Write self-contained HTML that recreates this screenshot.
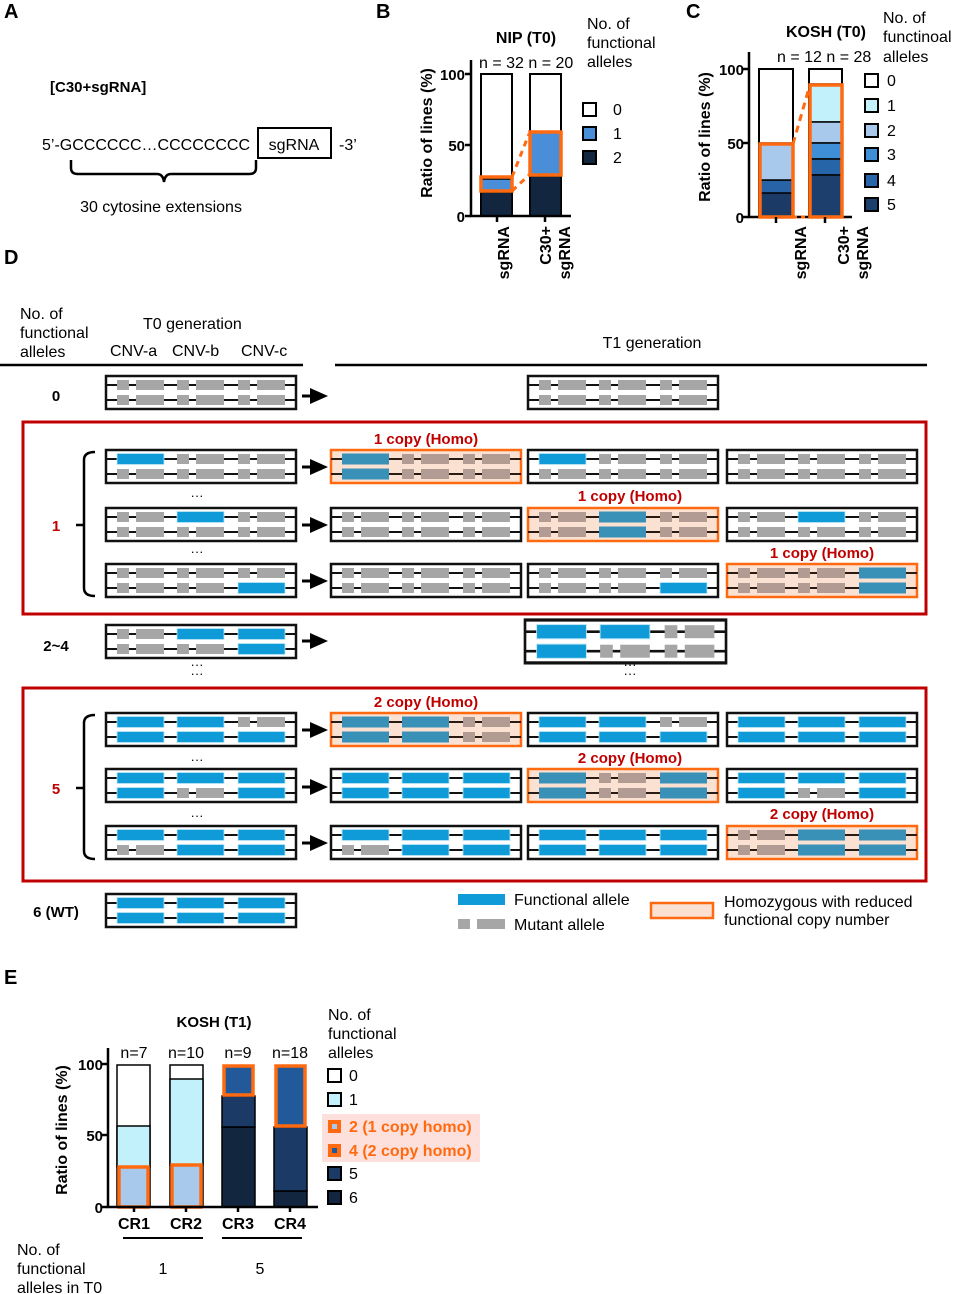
<!DOCTYPE html>
<html><head><meta charset="utf-8"><style>
html,body{margin:0;padding:0;background:#fff}
svg{display:block;font-family:"Liberation Sans",Arial,sans-serif}
</style></head><body>
<svg width="955" height="1294" viewBox="0 0 955 1294" xmlns="http://www.w3.org/2000/svg">
<defs>
<g id="G"><rect x="0" y="-5" width="12" height="10" fill="#a6a6a6"/><rect x="19" y="-5" width="28" height="10" fill="#a6a6a6"/></g>
<g id="B"><rect x="0" y="-5.5" width="47" height="11" fill="#0e9bd8" stroke="#bfe6f6" stroke-width="0.8"/></g>
<g id="HG"><rect x="0" y="-5" width="12" height="10" fill="#b19b92"/><rect x="19" y="-5" width="28" height="10" fill="#b19b92"/></g>
<g id="HB"><rect x="0" y="-5.5" width="47" height="11" fill="#3a91b8"/></g>
<g id="bx"><rect x="0" y="0" width="190" height="33" fill="#fff" stroke="#111" stroke-width="2.5"/><line x1="0" y1="9" x2="190" y2="9" stroke="#111" stroke-width="2"/><line x1="0" y1="24" x2="190" y2="24" stroke="#111" stroke-width="2"/></g>
<g id="hx"><rect x="0" y="0" width="190" height="33" fill="#fbe1d2" stroke="#ff6a10" stroke-width="2.5"/><line x1="0" y1="9" x2="190" y2="9" stroke="#2a1a14" stroke-width="2"/><line x1="0" y1="24" x2="190" y2="24" stroke="#2a1a14" stroke-width="2"/></g>
<g id="ar"><line x1="0" y1="0" x2="10" y2="0" stroke="#000" stroke-width="3"/><polygon points="8,-8 26,0 8,8" fill="#000"/></g>
</defs>

<g font-weight="bold" font-size="20">
<text x="4" y="18">A</text><text x="376" y="18">B</text><text x="686" y="18">C</text><text x="4" y="264">D</text><text x="4" y="984">E</text>
</g>

<!-- Panel A -->
<text x="50" y="92" font-size="15" font-weight="bold">[C30+sgRNA]</text>
<text x="42" y="150" font-size="16">5’-GCCCCCC…CCCCCCCC</text>
<rect x="258" y="128" width="73" height="30" fill="none" stroke="#000" stroke-width="2"/>
<text x="294" y="150" font-size="16" text-anchor="middle">sgRNA</text>
<text x="339" y="150" font-size="16">-3’</text>
<path d="M71,160 V168 Q71,174 78,174 H157 Q163,174 164,182 Q165,174 171,174 H249 Q256,174 256,168 V160" fill="none" stroke="#000" stroke-width="2.5"/>
<text x="161" y="212" font-size="16" text-anchor="middle">30 cytosine extensions</text>

<!-- Panel B -->
<text x="526" y="43" font-size="16" font-weight="bold" text-anchor="middle">NIP (T0)</text>
<text x="479" y="68" font-size="16">n = 32 n = 20</text>
<g font-size="16"><text x="587" y="29">No. of</text><text x="587" y="48">functional</text><text x="587" y="67">alleles</text></g>
<rect x="481" y="74" width="31" height="142" fill="#fff" stroke="#000" stroke-width="2"/>
<rect x="481" y="192" width="31" height="24" fill="#13263f" stroke="#000" stroke-width="1.5"/>
<rect x="481" y="179" width="31" height="13" fill="#4a8ed8" stroke="#000" stroke-width="1.5"/>
<rect x="530" y="74" width="31" height="142" fill="#fff" stroke="#000" stroke-width="2"/>
<rect x="530" y="176" width="31" height="40" fill="#13263f" stroke="#000" stroke-width="1.5"/>
<rect x="530" y="132" width="31" height="44" fill="#4a8ed8" stroke="#000" stroke-width="1.5"/>
<rect x="481" y="177" width="31" height="14" fill="none" stroke="#ff6a10" stroke-width="3.5"/>
<rect x="530" y="132" width="31" height="43" fill="none" stroke="#ff6a10" stroke-width="3.5"/>
<line x1="512" y1="177" x2="529" y2="134" stroke="#ff6a10" stroke-width="3" stroke-dasharray="6,5"/>
<line x1="512" y1="191" x2="529" y2="175" stroke="#ff6a10" stroke-width="3" stroke-dasharray="6,5"/>
<polyline points="471,60 471,216 571,216" fill="none" stroke="#000" stroke-width="2.5"/>
<line x1="465" y1="74" x2="471" y2="74" stroke="#000" stroke-width="2.5"/><line x1="465" y1="145" x2="471" y2="145" stroke="#000" stroke-width="2.5"/><line x1="465" y1="216" x2="471" y2="216" stroke="#000" stroke-width="2.5"/>
<line x1="497" y1="216" x2="497" y2="222" stroke="#000" stroke-width="2.5"/><line x1="545" y1="216" x2="545" y2="222" stroke="#000" stroke-width="2.5"/>
<g font-size="15" font-weight="bold" text-anchor="end"><text x="465" y="80">100</text><text x="465" y="151">50</text><text x="465" y="222">0</text></g>
<text transform="translate(432,133) rotate(-90)" font-size="16" font-weight="bold" text-anchor="middle">Ratio of lines (%)</text>
<g font-size="16" font-weight="bold" text-anchor="end">
<text transform="translate(509,226) rotate(-90)">sgRNA</text>
<text transform="translate(551,226) rotate(-90)">C30+</text>
<text transform="translate(570,226) rotate(-90)">sgRNA</text></g>
<rect x="583" y="103" width="13" height="13" fill="#fff" stroke="#000" stroke-width="2"/>
<rect x="583" y="127" width="13" height="13" fill="#4a8ed8" stroke="#000" stroke-width="2"/>
<rect x="583" y="151" width="13" height="13" fill="#13263f" stroke="#000" stroke-width="2"/>
<g font-size="16"><text x="613" y="115">0</text><text x="613" y="139">1</text><text x="613" y="163">2</text></g>

<!-- Panel C -->
<text x="826" y="37" font-size="16" font-weight="bold" text-anchor="middle">KOSH (T0)</text>
<text x="777" y="62" font-size="16">n = 12 n = 28</text>
<g font-size="16"><text x="883" y="23">No. of</text><text x="883" y="42">functinoal</text><text x="883" y="62">alleles</text></g>
<rect x="759" y="69" width="34" height="148" fill="#fff" stroke="#000" stroke-width="2"/>
<rect x="759" y="180" width="34" height="37" fill="#2763a6" stroke="#000" stroke-width="1.5"/>
<rect x="759" y="193" width="34" height="24" fill="#1c3a66" stroke="#000" stroke-width="1.5"/>
<rect x="759" y="143" width="34" height="37" fill="#a8c8ec" stroke="#000" stroke-width="1.5"/>
<rect x="809" y="69" width="33" height="148" fill="#fff" stroke="#000" stroke-width="2"/>
<rect x="809" y="84" width="33" height="38" fill="#c2f1fb" stroke="#000" stroke-width="1.5"/>
<rect x="809" y="122" width="33" height="21" fill="#a8c8ec" stroke="#000" stroke-width="1.5"/>
<rect x="809" y="143" width="33" height="16" fill="#3f8ed8" stroke="#000" stroke-width="1.5"/>
<rect x="809" y="159" width="33" height="16" fill="#2565a8" stroke="#000" stroke-width="1.5"/>
<rect x="809" y="175" width="33" height="42" fill="#1c3f6e" stroke="#000" stroke-width="1.5"/>
<polyline points="749,52 749,217 852,217" fill="none" stroke="#000" stroke-width="2.5"/>
<rect x="760" y="144" width="33" height="73" fill="none" stroke="#ff6a10" stroke-width="3.5"/>
<rect x="810" y="85" width="32" height="132" fill="none" stroke="#ff6a10" stroke-width="3.5"/>
<line x1="793" y1="144" x2="809" y2="88" stroke="#ff6a10" stroke-width="3" stroke-dasharray="7,5"/>
<line x1="793" y1="217" x2="809" y2="217" stroke="#ff6a10" stroke-width="3" stroke-dasharray="4,4"/>
<line x1="743" y1="69" x2="749" y2="69" stroke="#000" stroke-width="2.5"/><line x1="743" y1="143" x2="749" y2="143" stroke="#000" stroke-width="2.5"/><line x1="743" y1="217" x2="749" y2="217" stroke="#000" stroke-width="2.5"/>
<line x1="776" y1="217" x2="776" y2="223" stroke="#000" stroke-width="2.5"/><line x1="825" y1="217" x2="825" y2="223" stroke="#000" stroke-width="2.5"/>
<g font-size="15" font-weight="bold" text-anchor="end"><text x="744" y="75">100</text><text x="744" y="149">50</text><text x="744" y="223">0</text></g>
<text transform="translate(710,137) rotate(-90)" font-size="16" font-weight="bold" text-anchor="middle">Ratio of lines (%)</text>
<g font-size="16" font-weight="bold" text-anchor="end">
<text transform="translate(806,226) rotate(-90)">sgRNA</text>
<text transform="translate(849,226) rotate(-90)">C30+</text>
<text transform="translate(868,226) rotate(-90)">sgRNA</text></g>
<rect x="865" y="74" width="13" height="13" fill="#fff" stroke="#000" stroke-width="2"/>
<rect x="865" y="99" width="13" height="13" fill="#c2f1fb" stroke="#000" stroke-width="2"/>
<rect x="865" y="124" width="13" height="13" fill="#a8c8ec" stroke="#000" stroke-width="2"/>
<rect x="865" y="148" width="13" height="13" fill="#3f8ed8" stroke="#000" stroke-width="2"/>
<rect x="865" y="174" width="13" height="13" fill="#2565a8" stroke="#000" stroke-width="2"/>
<rect x="865" y="198" width="13" height="13" fill="#1c3f6e" stroke="#000" stroke-width="2"/>
<g font-size="16"><text x="887" y="86">0</text><text x="887" y="111">1</text><text x="887" y="136">2</text><text x="887" y="160">3</text><text x="887" y="186">4</text><text x="887" y="210">5</text></g>

<!-- Panel D header -->
<g font-size="16">
<text x="20" y="319">No. of</text><text x="20" y="338">functional</text><text x="20" y="357">alleles</text>
<text x="143" y="329">T0 generation</text>
<text x="110" y="356">CNV-a</text><text x="172" y="356">CNV-b</text><text x="241" y="356">CNV-c</text>
<text x="652" y="348" text-anchor="middle">T1 generation</text>
</g>
<line x1="0" y1="365" x2="303" y2="365" stroke="#000" stroke-width="2.5"/>
<line x1="335" y1="365" x2="927" y2="365" stroke="#000" stroke-width="2.5"/>

<g font-size="15" font-weight="bold">
<text x="56" y="401" text-anchor="middle">0</text>
<text x="56" y="531" text-anchor="middle" fill="#c00000">1</text>
<text x="56" y="651" text-anchor="middle">2~4</text>
<text x="56" y="794" text-anchor="middle" fill="#c00000">5</text>
<text x="56" y="917" text-anchor="middle">6 (WT)</text>
</g>
<rect x="23" y="422" width="903" height="192" fill="none" stroke="#c00000" stroke-width="3"/>
<rect x="23" y="688" width="903" height="193" fill="none" stroke="#c00000" stroke-width="3"/>
<path d="M95,452 Q84,452 84,460 V588 Q84,596 95,596 M84,525 H76" fill="none" stroke="#000" stroke-width="2.5"/>
<path d="M95,715 Q84,715 84,723 V851 Q84,859 95,859 M84,788 H76" fill="none" stroke="#000" stroke-width="2.5"/>

<g font-size="15" font-weight="bold" fill="#c00000" text-anchor="middle">
<text x="426" y="444">1 copy (Homo)</text>
<text x="630" y="501">1 copy (Homo)</text>
<text x="822" y="558">1 copy (Homo)</text>
<text x="426" y="707">2 copy (Homo)</text>
<text x="630" y="763">2 copy (Homo)</text>
<text x="822" y="819">2 copy (Homo)</text>
</g>
<g font-size="13" text-anchor="middle">
<text x="197" y="500">···</text><text x="197" y="556">···</text>
<text x="197" y="669">···</text><text x="197" y="678">···</text>
<text x="630" y="669">···</text><text x="630" y="678">···</text>
<text x="197" y="764">···</text><text x="197" y="820">···</text>
</g>
<use href="#ar" x="302" y="396"/><use href="#ar" x="302" y="467"/><use href="#ar" x="302" y="525"/><use href="#ar" x="302" y="581"/><use href="#ar" x="302" y="641"/><use href="#ar" x="302" y="730"/><use href="#ar" x="302" y="787"/><use href="#ar" x="302" y="843"/>

<g transform="translate(106,376)"><use href="#bx"/><use href="#G" x="11" y="9"/><use href="#G" x="71" y="9"/><use href="#G" x="132" y="9"/><use href="#G" x="11" y="24"/><use href="#G" x="71" y="24"/><use href="#G" x="132" y="24"/></g>
<g transform="translate(528,376)"><use href="#bx"/><use href="#G" x="11" y="9"/><use href="#G" x="71" y="9"/><use href="#G" x="132" y="9"/><use href="#G" x="11" y="24"/><use href="#G" x="71" y="24"/><use href="#G" x="132" y="24"/></g>

<g transform="translate(106,450)"><use href="#bx"/><use href="#B" x="11" y="9"/><use href="#G" x="71" y="9"/><use href="#G" x="132" y="9"/><use href="#G" x="11" y="24"/><use href="#G" x="71" y="24"/><use href="#G" x="132" y="24"/></g>
<g transform="translate(331,450)"><use href="#hx"/><use href="#HB" x="11" y="9"/><use href="#HG" x="71" y="9"/><use href="#HG" x="132" y="9"/><use href="#HB" x="11" y="24"/><use href="#HG" x="71" y="24"/><use href="#HG" x="132" y="24"/></g>
<g transform="translate(528,450)"><use href="#bx"/><use href="#B" x="11" y="9"/><use href="#G" x="71" y="9"/><use href="#G" x="132" y="9"/><use href="#G" x="11" y="24"/><use href="#G" x="71" y="24"/><use href="#G" x="132" y="24"/></g>
<g transform="translate(727,450)"><use href="#bx"/><use href="#G" x="11" y="9"/><use href="#G" x="71" y="9"/><use href="#G" x="132" y="9"/><use href="#G" x="11" y="24"/><use href="#G" x="71" y="24"/><use href="#G" x="132" y="24"/></g>

<g transform="translate(106,508)"><use href="#bx"/><use href="#G" x="11" y="9"/><use href="#B" x="71" y="9"/><use href="#G" x="132" y="9"/><use href="#G" x="11" y="24"/><use href="#G" x="71" y="24"/><use href="#G" x="132" y="24"/></g>
<g transform="translate(331,508)"><use href="#bx"/><use href="#G" x="11" y="9"/><use href="#G" x="71" y="9"/><use href="#G" x="132" y="9"/><use href="#G" x="11" y="24"/><use href="#G" x="71" y="24"/><use href="#G" x="132" y="24"/></g>
<g transform="translate(528,508)"><use href="#hx"/><use href="#HG" x="11" y="9"/><use href="#HB" x="71" y="9"/><use href="#HG" x="132" y="9"/><use href="#HG" x="11" y="24"/><use href="#HB" x="71" y="24"/><use href="#HG" x="132" y="24"/></g>
<g transform="translate(727,508)"><use href="#bx"/><use href="#G" x="11" y="9"/><use href="#B" x="71" y="9"/><use href="#G" x="132" y="9"/><use href="#G" x="11" y="24"/><use href="#G" x="71" y="24"/><use href="#G" x="132" y="24"/></g>

<g transform="translate(106,564)"><use href="#bx"/><use href="#G" x="11" y="9"/><use href="#G" x="71" y="9"/><use href="#G" x="132" y="9"/><use href="#G" x="11" y="24"/><use href="#G" x="71" y="24"/><use href="#B" x="132" y="24"/></g>
<g transform="translate(331,564)"><use href="#bx"/><use href="#G" x="11" y="9"/><use href="#G" x="71" y="9"/><use href="#G" x="132" y="9"/><use href="#G" x="11" y="24"/><use href="#G" x="71" y="24"/><use href="#G" x="132" y="24"/></g>
<g transform="translate(528,564)"><use href="#bx"/><use href="#G" x="11" y="9"/><use href="#G" x="71" y="9"/><use href="#G" x="132" y="9"/><use href="#G" x="11" y="24"/><use href="#G" x="71" y="24"/><use href="#B" x="132" y="24"/></g>
<g transform="translate(727,564)"><use href="#hx"/><use href="#HG" x="11" y="9"/><use href="#HG" x="71" y="9"/><use href="#HB" x="132" y="9"/><use href="#HG" x="11" y="24"/><use href="#HG" x="71" y="24"/><use href="#HB" x="132" y="24"/></g>

<g transform="translate(106,625)"><use href="#bx"/><use href="#G" x="11" y="9"/><use href="#B" x="71" y="9"/><use href="#B" x="132" y="9"/><use href="#G" x="11" y="24"/><use href="#G" x="71" y="24"/><use href="#B" x="132" y="24"/></g>
<g transform="translate(525,620) scale(1.058,1.3)"><use href="#bx"/><use href="#B" x="11" y="9"/><use href="#B" x="71" y="9"/><use href="#G" x="132" y="9"/><use href="#B" x="11" y="24"/><use href="#G" x="71" y="24"/><use href="#G" x="132" y="24"/></g>

<g transform="translate(106,713)"><use href="#bx"/><use href="#B" x="11" y="9"/><use href="#B" x="71" y="9"/><use href="#G" x="132" y="9"/><use href="#B" x="11" y="24"/><use href="#B" x="71" y="24"/><use href="#B" x="132" y="24"/></g>
<g transform="translate(331,713)"><use href="#hx"/><use href="#HB" x="11" y="9"/><use href="#HB" x="71" y="9"/><use href="#HG" x="132" y="9"/><use href="#HB" x="11" y="24"/><use href="#HB" x="71" y="24"/><use href="#HG" x="132" y="24"/></g>
<g transform="translate(528,713)"><use href="#bx"/><use href="#B" x="11" y="9"/><use href="#B" x="71" y="9"/><use href="#G" x="132" y="9"/><use href="#B" x="11" y="24"/><use href="#B" x="71" y="24"/><use href="#B" x="132" y="24"/></g>
<g transform="translate(727,713)"><use href="#bx"/><use href="#B" x="11" y="9"/><use href="#B" x="71" y="9"/><use href="#B" x="132" y="9"/><use href="#B" x="11" y="24"/><use href="#B" x="71" y="24"/><use href="#B" x="132" y="24"/></g>

<g transform="translate(106,769)"><use href="#bx"/><use href="#B" x="11" y="9"/><use href="#B" x="71" y="9"/><use href="#B" x="132" y="9"/><use href="#B" x="11" y="24"/><use href="#G" x="71" y="24"/><use href="#B" x="132" y="24"/></g>
<g transform="translate(331,769)"><use href="#bx"/><use href="#B" x="11" y="9"/><use href="#B" x="71" y="9"/><use href="#B" x="132" y="9"/><use href="#B" x="11" y="24"/><use href="#B" x="71" y="24"/><use href="#B" x="132" y="24"/></g>
<g transform="translate(528,769)"><use href="#hx"/><use href="#HB" x="11" y="9"/><use href="#HG" x="71" y="9"/><use href="#HB" x="132" y="9"/><use href="#HB" x="11" y="24"/><use href="#HG" x="71" y="24"/><use href="#HB" x="132" y="24"/></g>
<g transform="translate(727,769)"><use href="#bx"/><use href="#B" x="11" y="9"/><use href="#B" x="71" y="9"/><use href="#B" x="132" y="9"/><use href="#B" x="11" y="24"/><use href="#G" x="71" y="24"/><use href="#B" x="132" y="24"/></g>

<g transform="translate(106,826)"><use href="#bx"/><use href="#B" x="11" y="9"/><use href="#B" x="71" y="9"/><use href="#B" x="132" y="9"/><use href="#G" x="11" y="24"/><use href="#B" x="71" y="24"/><use href="#B" x="132" y="24"/></g>
<g transform="translate(331,826)"><use href="#bx"/><use href="#B" x="11" y="9"/><use href="#B" x="71" y="9"/><use href="#B" x="132" y="9"/><use href="#G" x="11" y="24"/><use href="#B" x="71" y="24"/><use href="#B" x="132" y="24"/></g>
<g transform="translate(528,826)"><use href="#bx"/><use href="#B" x="11" y="9"/><use href="#B" x="71" y="9"/><use href="#B" x="132" y="9"/><use href="#B" x="11" y="24"/><use href="#B" x="71" y="24"/><use href="#B" x="132" y="24"/></g>
<g transform="translate(727,826)"><use href="#hx"/><use href="#HG" x="11" y="9"/><use href="#HB" x="71" y="9"/><use href="#HB" x="132" y="9"/><use href="#HG" x="11" y="24"/><use href="#HB" x="71" y="24"/><use href="#HB" x="132" y="24"/></g>

<g transform="translate(106,894)"><use href="#bx"/><use href="#B" x="11" y="9"/><use href="#B" x="71" y="9"/><use href="#B" x="132" y="9"/><use href="#B" x="11" y="24"/><use href="#B" x="71" y="24"/><use href="#B" x="132" y="24"/></g>

<rect x="458" y="894" width="47" height="11" fill="#0e9bd8"/>
<use href="#G" x="458" y="924"/>
<text x="514" y="905" font-size="16">Functional allele</text>
<text x="514" y="930" font-size="16">Mutant allele</text>
<rect x="651" y="903" width="62" height="15" fill="#fbe1d2" stroke="#ff6a10" stroke-width="2.5"/>
<text x="724" y="907" font-size="16">Homozygous with reduced</text>
<text x="724" y="925" font-size="16">functional copy number</text>

<!-- Panel E -->
<text x="214" y="1027" font-size="15" font-weight="bold" text-anchor="middle">KOSH (T1)</text>
<g font-size="16" text-anchor="middle"><text x="134" y="1058">n=7</text><text x="186" y="1058">n=10</text><text x="238" y="1058">n=9</text><text x="290" y="1058">n=18</text></g>
<g font-size="16"><text x="328" y="1020">No. of</text><text x="328" y="1039">functional</text><text x="328" y="1058">alleles</text></g>
<rect x="117" y="1065" width="33" height="142" fill="#fff" stroke="#000" stroke-width="1.5"/>
<rect x="117" y="1126" width="33" height="41" fill="#c2f1fb" stroke="#000" stroke-width="1.5"/>
<rect x="119" y="1167" width="29" height="40" fill="#a8c8ec" stroke="#ff6a10" stroke-width="3.5"/>
<rect x="170" y="1065" width="33" height="142" fill="#fff" stroke="#000" stroke-width="1.5"/>
<rect x="170" y="1079" width="33" height="86" fill="#c2f1fb" stroke="#000" stroke-width="1.5"/>
<rect x="172" y="1165" width="29" height="42" fill="#a8c8ec" stroke="#ff6a10" stroke-width="3.5"/>
<rect x="222" y="1127" width="33" height="80" fill="#13263f" stroke="#000" stroke-width="1.5"/>
<rect x="222" y="1096" width="33" height="31" fill="#1c3a66" stroke="#000" stroke-width="1.5"/>
<rect x="224" y="1066" width="29" height="29" fill="#22599a" stroke="#ff6a10" stroke-width="3.5"/>
<rect x="274" y="1191" width="33" height="16" fill="#13263f" stroke="#000" stroke-width="1.5"/>
<rect x="274" y="1127" width="33" height="64" fill="#1c3a66" stroke="#000" stroke-width="1.5"/>
<rect x="276" y="1066" width="29" height="60" fill="#22599a" stroke="#ff6a10" stroke-width="3.5"/>
<polyline points="108,1048 108,1207 318,1207" fill="none" stroke="#000" stroke-width="2.5"/>
<line x1="101" y1="1064" x2="108" y2="1064" stroke="#000" stroke-width="2.5"/><line x1="101" y1="1135" x2="108" y2="1135" stroke="#000" stroke-width="2.5"/><line x1="101" y1="1207" x2="108" y2="1207" stroke="#000" stroke-width="2.5"/>
<g stroke="#000" stroke-width="2.5"><line x1="134" y1="1207" x2="134" y2="1212"/><line x1="186" y1="1207" x2="186" y2="1212"/><line x1="238" y1="1207" x2="238" y2="1212"/><line x1="290" y1="1207" x2="290" y2="1212"/></g>
<g font-size="15" font-weight="bold" text-anchor="end"><text x="103" y="1070">100</text><text x="103" y="1141">50</text><text x="103" y="1213">0</text></g>
<text transform="translate(67,1130) rotate(-90)" font-size="16" font-weight="bold" text-anchor="middle">Ratio of lines (%)</text>
<g font-size="16" font-weight="bold" text-anchor="middle"><text x="134" y="1229">CR1</text><text x="186" y="1229">CR2</text><text x="238" y="1229">CR3</text><text x="290" y="1229">CR4</text></g>
<line x1="123" y1="1238" x2="203" y2="1238" stroke="#000" stroke-width="2"/>
<line x1="222" y1="1238" x2="302" y2="1238" stroke="#000" stroke-width="2"/>
<g font-size="16"><text x="17" y="1255">No. of</text><text x="17" y="1274">functional</text><text x="17" y="1293">alleles in T0</text>
<text x="163" y="1274" text-anchor="middle">1</text><text x="260" y="1274" text-anchor="middle">5</text></g>
<rect x="322" y="1114" width="158" height="48" fill="#fde0dc"/>
<rect x="328" y="1069" width="13" height="13" fill="#fff" stroke="#000" stroke-width="2"/>
<rect x="328" y="1093" width="13" height="13" fill="#c2f1fb" stroke="#000" stroke-width="2"/>
<rect x="328" y="1120" width="13" height="13" fill="#ff6a10"/><rect x="332" y="1124" width="5" height="5" fill="#a8c8ec"/>
<rect x="328" y="1144" width="13" height="13" fill="#ff6a10"/><rect x="332" y="1148" width="5" height="5" fill="#22599a"/>
<rect x="328" y="1167" width="13" height="13" fill="#1c3a66" stroke="#000" stroke-width="2"/>
<rect x="328" y="1191" width="13" height="13" fill="#13263f" stroke="#000" stroke-width="2"/>
<g font-size="16"><text x="349" y="1081">0</text><text x="349" y="1105">1</text>
<text x="349" y="1132" fill="#ff6a10" font-weight="bold">2 (1 copy homo)</text>
<text x="349" y="1156" fill="#ff6a10" font-weight="bold">4 (2 copy homo)</text>
<text x="349" y="1179">5</text><text x="349" y="1203">6</text></g>
</svg>
</body></html>
